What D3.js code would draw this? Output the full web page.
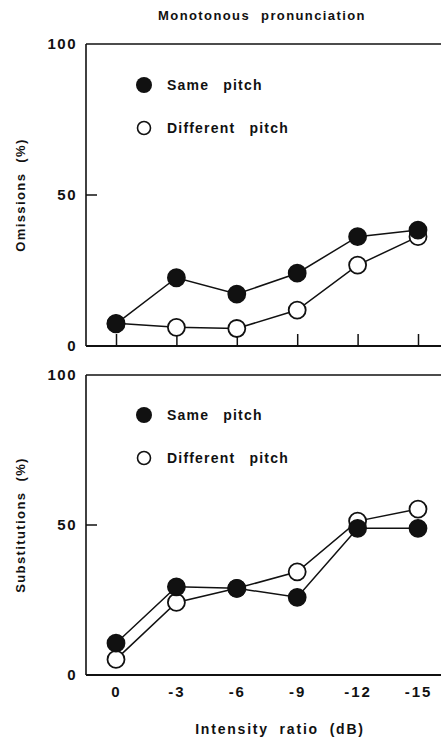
<!DOCTYPE html>
<html>
<head>
<meta charset="utf-8">
<script src="https://cdn.jsdelivr.net/npm/d3@7"></script>
<style>
  html, body { margin: 0; padding: 0; background: #fff; }
  svg { display: block; }
  text { font-family: "Liberation Sans", Arial, sans-serif; fill: #111; }
</style>
</head>
<body>
<script>
// ---- data ----
const categories = [0, -3, -6, -9, -12, -15];
const xTickLabels = ["0", "-3", "-6", "-9", "-12", "-15"];
const yTicks = [0, 50, 100];
const omissionsSame = [7.3, 22.6, 17.2, 24.1, 36.2, 38.4];
const omissionsDiff = [7.5, 6.2, 5.8, 11.9, 26.8, 36.2];
const substitutionsSame = [10.6, 29.4, 28.9, 25.9, 48.9, 48.9];
const substitutionsDiff = [5.2, 24.2, 28.9, 34.4, 51.3, 55.3];
const seriesNames = ["Same pitch", "Different pitch"];
const panelTitles = ["Omissions (%)", "Substitutions (%)"];
const chartTitle = "Monotonous pronunciation";
const xAxisTitle = "Intensity ratio (dB)";

const W = 441, H = 739;
const svg = d3.select("body").append("svg").attr("width", W).attr("height", H);

const left = 86, right = 452;
const x = d3.scaleLinear().domain([0, -15]).range([116, 418]);

const panels = [
  { top: 44, bottom: 346, same: omissionsSame, diff: omissionsDiff, title: panelTitles[0], xticks: true, legendY: 85 },
  { top: 375, bottom: 675, same: substitutionsSame, diff: substitutionsDiff, title: panelTitles[1], xticks: false, legendY: 415 }
];

svg.append("text")
  .attr("x", 262).attr("y", 20)
  .attr("text-anchor", "middle")
  .style("font-size", "13px").style("font-weight", "bold")
  .style("letter-spacing", "1.4px").style("word-spacing", "6px")
  .text(chartTitle);

panels.forEach(p => {
  const y = d3.scaleLinear().domain([0, 100]).range([p.bottom, p.top]);
  const g = svg.append("g");

  // frame
  g.append("line").attr("x1", left).attr("x2", right).attr("y1", y(100)).attr("y2", y(100))
    .attr("stroke", "#111").attr("stroke-width", 1.5);
  g.append("line").attr("x1", left).attr("x2", left).attr("y1", y(100)).attr("y2", y(0))
    .attr("stroke", "#111").attr("stroke-width", 1.6);
  g.append("line").attr("x1", left).attr("x2", right).attr("y1", y(0)).attr("y2", y(0))
    .attr("stroke", "#111").attr("stroke-width", 2);

  // y axis
  const yAxis = d3.axisLeft(y).tickValues(yTicks).tickSize(0).tickPadding(9)
    .tickFormat(d3.format("d"));
  const ya = g.append("g").attr("transform", `translate(${left},0)`).call(yAxis);
  ya.select(".domain").remove();
  ya.selectAll("text").style("font-size", "15px").style("letter-spacing", "1.5px")
    .style("font-weight", "bold").style("font-family", "'Liberation Sans', Arial, sans-serif").attr("fill", "#111");
  g.append("line").attr("x1", left).attr("x2", left + 11).attr("y1", y(50)).attr("y2", y(50))
    .attr("stroke", "#111").attr("stroke-width", 1.5);

  // x axis
  if (p.xticks) {
    const xa = g.append("g").attr("transform", `translate(0,${y(0)})`)
      .call(d3.axisBottom(x).tickValues(categories).tickSize(-12).tickFormat(""));
    xa.select(".domain").remove();
    xa.selectAll("line").attr("stroke", "#111").attr("stroke-width", 1.5);
  } else {
    const xa = g.append("g").attr("transform", `translate(0,${y(0)})`)
      .call(d3.axisBottom(x).tickValues(categories).tickSize(0).tickPadding(11)
        .tickFormat((d, i) => xTickLabels[i]));
    xa.select(".domain").remove();
    xa.selectAll("text").style("font-size", "15px").style("letter-spacing", "2px")
      .style("font-weight", "bold").style("font-family", "'Liberation Sans', Arial, sans-serif").attr("fill", "#111");
  }

  // y title
  g.append("text")
    .attr("transform", `translate(25,${(p.top + p.bottom) / 2}) rotate(-90)`)
    .attr("text-anchor", "middle")
    .style("font-size", "13px").style("font-weight", "bold")
    .style("letter-spacing", "1.4px").style("word-spacing", "5px")
    .text(p.title);

  // lines + points
  const line = d3.line().x((d, i) => x(categories[i])).y(d => y(d));
  [p.diff, p.same].forEach(vals => {
    g.append("path").datum(vals).attr("d", line).attr("fill", "none")
      .attr("stroke", "#111").attr("stroke-width", 1.5);
  });
  [[p.diff, "#fff"], [p.same, "#111"]].forEach(([vals, fill]) => {
    g.selectAll(null).data(vals).enter().append("circle")
      .attr("cx", (d, i) => x(categories[i])).attr("cy", d => y(d)).attr("r", 8.5)
      .attr("fill", fill).attr("stroke", "#111").attr("stroke-width", 1.8);
  });

  // legend
  const lg = g.append("g");
  lg.append("circle").attr("cx", 144).attr("cy", p.legendY).attr("r", 8).attr("fill", "#111");
  lg.append("circle").attr("cx", 144).attr("cy", p.legendY + 43).attr("r", 6.5)
    .attr("fill", "#fff").attr("stroke", "#111").attr("stroke-width", 1.6);
  [0, 1].forEach(i => {
    lg.append("text").attr("x", 167).attr("y", p.legendY + 5 + i * 43)
      .style("font-size", "14px").style("font-weight", "bold")
      .style("letter-spacing", "1.2px").style("word-spacing", "9px")
      .text(seriesNames[i]);
  });
});

svg.append("text")
  .attr("x", 280).attr("y", 734)
  .attr("text-anchor", "middle")
  .style("font-size", "14px").style("font-weight", "bold")
  .style("letter-spacing", "1.8px").style("word-spacing", "5px")
  .text(xAxisTitle);
</script>
</body>
</html>
